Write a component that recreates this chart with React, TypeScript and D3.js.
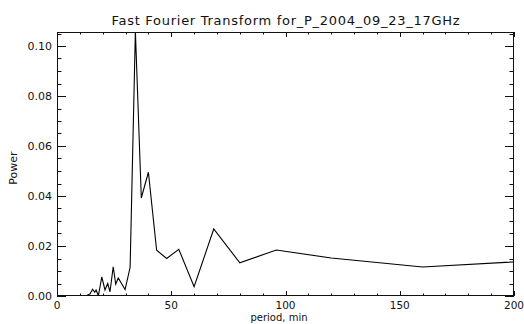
import React from "react";
import * as d3 from "d3";

// FFT power spectrum: period (min) vs power
const periods = [
  240, 160, 120, 96, 80, 68.6, 60, 53.3, 48, 43.6, 40, 36.9, 34.3, 32, 29.8,
  26.8, 25.7, 24.6, 23.2, 22.2, 21.0, 19.6, 18.1, 17.1, 16.5, 15.6, 14.4,
  13.1, 12.3, 11.0, 10.0, 8.0, 6.0, 4.0, 2.0, 0.5,
];
const power = [
  0.0157, 0.0116, 0.0152, 0.0184, 0.0133, 0.0268, 0.0037, 0.0187, 0.015,
  0.0183, 0.0495, 0.0392, 0.106, 0.0115, 0.0026, 0.0072, 0.0047, 0.0117,
  0.0017, 0.005, 0.0024, 0.0076, 0.0001, 0.0024, 0.0015, 0.0027, 0.0008,
  0.0003, 0.0002, 0.0001, 0.0, 0.0, 0.0, 0.0, 0.0, 0.0,
];
const xTicks = [0, 50, 100, 150, 200];
const yTicks = [0, 0.02, 0.04, 0.06, 0.08, 0.1];

const title = "Fast Fourier Transform for_P_2004_09_23_17GHz";
const xTitle = "period, min";
const yTitle = "Power";

const W = 524;
const H = 324;
const L = 57;
const R = 514;
const T = 32;
const B = 296;
const FONT = "DejaVu Sans";

export default function App() {
  const x = d3.scaleLinear().domain([0, 200]).range([L, R]);
  const y = d3.scaleLinear().domain([0, 0.1056]).range([B, T]);

  const pts = periods.map((p, i) => [p, power[i]] as [number, number]);
  const line = d3
    .line<[number, number]>()
    .x((d) => x(d[0]))
    .y((d) => y(d[1]));

  const xMinor = d3.range(0, 201, 10);
  const yMinor = d3.range(0, 0.1056, 0.005);
  const xMajLen = 5;
  const xMinLen = 2.5;
  const yMajLen = 9;
  const yMinLen = 4.5;
  const ink = "#111";

  return (
    <div style={{ position: "fixed", left: 0, top: 0 }}>
      <svg width={W} height={H} style={{ display: "block", background: "#fff" }}>
        <defs>
          <clipPath id="plotClip">
            <rect x={L} y={T} width={R - L} height={B - T} />
          </clipPath>
        </defs>
        <rect x={0} y={0} width={W} height={H} fill="#fff" />

        {/* data line */}
        <path
          d={line(pts) || ""}
          fill="none"
          stroke="#000"
          strokeWidth={1.1}
          clipPath="url(#plotClip)"
        />

        {/* box */}
        <rect
          x={L + 0.5}
          y={T + 0.5}
          width={R - L - 1}
          height={B - T - 1}
          fill="none"
          stroke={ink}
          strokeWidth={1}
        />

        {/* x ticks bottom/top */}
        {xMinor.map((v) => {
          const major = v % 50 === 0;
          const len = major ? xMajLen : xMinLen;
          const px = Math.round(x(v)) + 0.5;
          return (
            <g key={"x" + v}>
              <line x1={px} x2={px} y1={B} y2={B - len} stroke={ink} />
              <line x1={px} x2={px} y1={T} y2={T + len} stroke={ink} />
            </g>
          );
        })}
        {/* y ticks left/right */}
        {yMinor.map((v, i) => {
          const major = i % 4 === 0;
          const len = major ? yMajLen : yMinLen;
          const py = Math.round(y(v)) + 0.5;
          return (
            <g key={"y" + i}>
              <line x1={L} x2={L + len} y1={py} y2={py} stroke={ink} />
              <line x1={R} x2={R - len} y1={py} y2={py} stroke={ink} />
            </g>
          );
        })}

        {/* tick labels */}
        {xTicks.map((v) => (
          <text
            key={"xl" + v}
            x={x(v)}
            y={309}
            textAnchor="middle"
            fontFamily={FONT}
            fontSize={10.5}
            fill={ink}
          >
            {v}
          </text>
        ))}
        {yTicks.map((v) => (
          <text
            key={"yl" + v}
            x={52}
            y={y(v) + 4}
            textAnchor="end"
            fontFamily={FONT}
            fontSize={11}
            fill={ink}
          >
            {v.toFixed(2)}
          </text>
        ))}

        {/* titles */}
        <text
          x={(L + R) / 2}
          y={25}
          textAnchor="middle"
          fontFamily={FONT}
          fontSize={13}
          fill={ink}
          textLength={348}
          lengthAdjust="spacing"
        >
          {title}
        </text>
        <text
          x={279}
          y={321}
          textAnchor="middle"
          fontFamily={FONT}
          fontSize={10}
          fill={ink}
        >
          {xTitle}
        </text>
        <text
          transform={`translate(17,${(T + B) / 2 + 4}) rotate(-90)`}
          textAnchor="middle"
          fontFamily={FONT}
          fontSize={11}
          fill={ink}
        >
          {yTitle}
        </text>
      </svg>
    </div>
  );
}
